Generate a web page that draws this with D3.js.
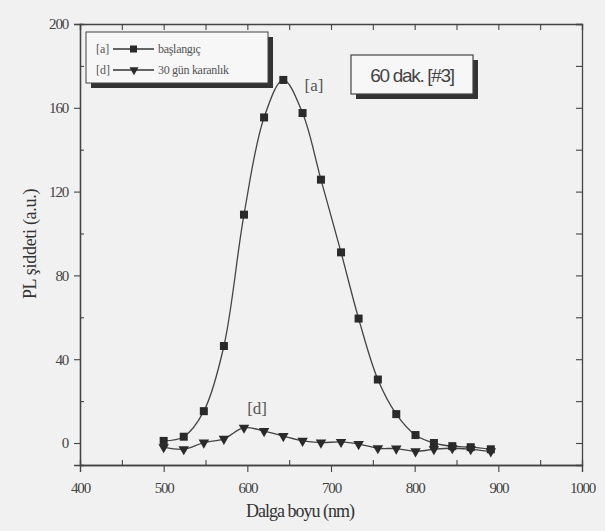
<!DOCTYPE html>
<html>
<head>
  <meta charset="utf8">
  <title>PL</title>
  <style type="text/css">
    body { margin: 0; background: #f4f4f4; }
    svg { display: block; }
    text { font-family: "Liberation Serif", serif; fill: #333; }
  </style>
</head>
<body>
<script src="https://d3js.org/d3.v7.min.js"></script>
<script type="text/javascript">
var width = 605, height = 531;

// wavelength (nm)
var wavelengths = [500, 524, 548, 572, 596, 620, 643, 666, 688, 712, 733, 756, 778, 801, 823, 845, 867, 891];
// [a] başlangıç
var seriesA = [1, 3, 15.2, 46.3, 109, 155.4, 173.3, 157.5, 125.7, 91, 59.4, 30.3, 13.8, 3.8, 0, -1.5, -2, -3];
// [d] 30 gün karanlık
var seriesD = [-2, -3, 0.2, 2, 7.3, 5.7, 3.3, 1, 0.2, 0.5, -0.5, -2.5, -2.7, -4, -3, -2.5, -3, -4];

var xTicks = [400, 500, 600, 700, 800, 900, 1000];
var yTicks = [0, 40, 80, 120, 160, 200];

var m = { left: 80, right: 582, top: 24, bottom: 465 };

var x = d3.scaleLinear().domain([400, 1000]).range([m.left, m.right]);
var y = d3.scaleLinear().domain([-10.5, 200]).range([m.bottom, m.top]);

var svg = d3.select('body').append('svg')
    .attr('width', width)
    .attr('height', height);

svg.append('rect')
  .attr('width', width).attr('height', height)
  .attr('fill', '#f1f1f1');

// axes: major out on bottom/left, everything in on top/right
var xMinor = d3.range(450, 1000, 100);
var yMinor = d3.range(20, 200, 40);

function axisStyle(g) {
  g.select('.domain').attr('stroke', '#444').attr('stroke-width', 1.3);
  g.selectAll('.tick line').attr('stroke', '#444').attr('stroke-width', 1.1);
  g.selectAll('.tick text')
    .attr('font-size', 15)
    .style('fill', '#444')
    .attr('letter-spacing', -1.2);
}

svg.append('g')
  .attr('transform', 'translate(0,' + m.bottom + ')')
  .call(d3.axisBottom(x).tickValues(xTicks).tickSize(7).tickPadding(10).tickFormat(d3.format('d')))
  .call(axisStyle);
svg.append('g')
  .attr('transform', 'translate(0,' + m.bottom + ')')
  .call(d3.axisTop(x).tickValues(xMinor).tickSize(5).tickFormat(''))
  .call(axisStyle);

svg.append('g')
  .attr('transform', 'translate(' + m.left + ',0)')
  .call(d3.axisLeft(y).tickValues(yTicks).tickSize(6).tickPadding(6).tickFormat(d3.format('d')))
  .call(axisStyle);
svg.append('g')
  .attr('transform', 'translate(' + m.left + ',0)')
  .call(d3.axisRight(y).tickValues(yMinor).tickSize(4).tickFormat(''))
  .call(axisStyle);

svg.append('g')
  .attr('transform', 'translate(0,' + m.top + ')')
  .call(d3.axisBottom(x).tickValues(xTicks.concat(xMinor)).tickSize(6).tickFormat(''))
  .call(axisStyle);
svg.append('g')
  .attr('transform', 'translate(' + m.right + ',0)')
  .call(d3.axisLeft(y).tickValues(yTicks.concat(yMinor)).tickSize(6).tickFormat(''))
  .call(axisStyle);

// axis titles
svg.append('text')
  .attr('x', 300).attr('y', 517)
  .attr('text-anchor', 'middle')
  .attr('font-size', 18)
  .attr('letter-spacing', -1)
  .text('Dalga boyu (nm)');

svg.append('text')
  .attr('transform', 'translate(36,244) rotate(-90)')
  .attr('text-anchor', 'middle')
  .attr('font-size', 18)
  .attr('letter-spacing', -0.3)
  .text('PL şiddeti (a.u.)');

// curves
var line = d3.line()
  .x(function(d) { return x(d[0]); })
  .y(function(d) { return y(d[1]); })
  .curve(d3.curveCatmullRom);

var dataA = d3.zip(wavelengths, seriesA);
var dataD = d3.zip(wavelengths, seriesD);

svg.append('path').datum(dataA)
  .attr('d', line).attr('fill', 'none').attr('stroke', '#444').attr('stroke-width', 1.3);
svg.append('path').datum(dataD)
  .attr('d', line).attr('fill', 'none').attr('stroke', '#444').attr('stroke-width', 1.3);

var tri = d3.symbol().type(d3.symbolTriangle).size(48);

svg.append('g').selectAll('rect').data(dataA).enter().append('rect')
  .attr('x', function(d) { return x(d[0]) - 4; })
  .attr('y', function(d) { return y(d[1]) - 4; })
  .attr('width', 8).attr('height', 8)
  .attr('fill', '#2a2a2a');

svg.append('g').selectAll('path').data(dataD).enter().append('path')
  .attr('d', tri)
  .attr('transform', function(d) { return 'translate(' + x(d[0]) + ',' + y(d[1]) + ') rotate(180)'; })
  .attr('fill', '#2a2a2a');

// curve labels
svg.append('text').attr('x', x(666) + 2).attr('y', y(173) + 10)
  .attr('font-size', 17).style('fill', '#555').text('[a]');
svg.append('text').attr('x', x(595) + 4).attr('y', y(15) + 2)
  .attr('font-size', 17).style('fill', '#555').text('[d]');

// legend box with shadow
var lg = svg.append('g').attr('transform', 'translate(86,32)');
lg.append('rect').attr('x', 5).attr('y', 5).attr('width', 182).attr('height', 51).attr('fill', '#333');
lg.append('rect').attr('width', 182).attr('height', 51).attr('fill', '#f7f7f7')
  .attr('stroke', '#444').attr('stroke-width', 1);

var legendRows = [
  { tag: '[a]', name: 'başlangıç', marker: 'square' },
  { tag: '[d]', name: '30 gün karanlık', marker: 'tri' }
];
var row = lg.selectAll('.row').data(legendRows).enter().append('g')
  .attr('class', 'row')
  .attr('transform', function(d, i) { return 'translate(0,' + (17 + i * 21) + ')'; });
row.append('text').attr('x', 10).attr('y', 4).attr('font-size', 12).style('fill', '#555')
  .text(function(d) { return d.tag; });
row.append('line').attr('x1', 27).attr('x2', 68).attr('stroke', '#333').attr('stroke-width', 1.3);
row.filter(function(d) { return d.marker === 'square'; }).append('rect')
  .attr('x', 44).attr('y', -3.5).attr('width', 7).attr('height', 7).attr('fill', '#2a2a2a');
row.filter(function(d) { return d.marker === 'tri'; }).append('path')
  .attr('d', d3.symbol().type(d3.symbolTriangle).size(36))
  .attr('transform', 'translate(48,0) rotate(180)').attr('fill', '#2a2a2a');
row.append('text').attr('x', 72).attr('y', 4).attr('font-size', 12).style('fill', '#555')
  .attr('letter-spacing', -0.3)
  .text(function(d) { return d.name; });

// annotation box
var ann = svg.append('g').attr('transform', 'translate(351,55)');
ann.append('rect').attr('x', 5).attr('y', 5).attr('width', 122).attr('height', 39).attr('fill', '#333');
ann.append('rect').attr('width', 122).attr('height', 39).attr('fill', '#f7f7f7')
  .attr('stroke', '#444').attr('stroke-width', 1.2);
ann.append('text').attr('x', 61).attr('y', 27)
  .attr('text-anchor', 'middle')
  .style('font-family', '"Liberation Sans", sans-serif')
  .attr('font-size', 19).attr('letter-spacing', -1.3).style('fill', '#444')
  .text('60 dak. [#3]');
</script>
</body>
</html>
